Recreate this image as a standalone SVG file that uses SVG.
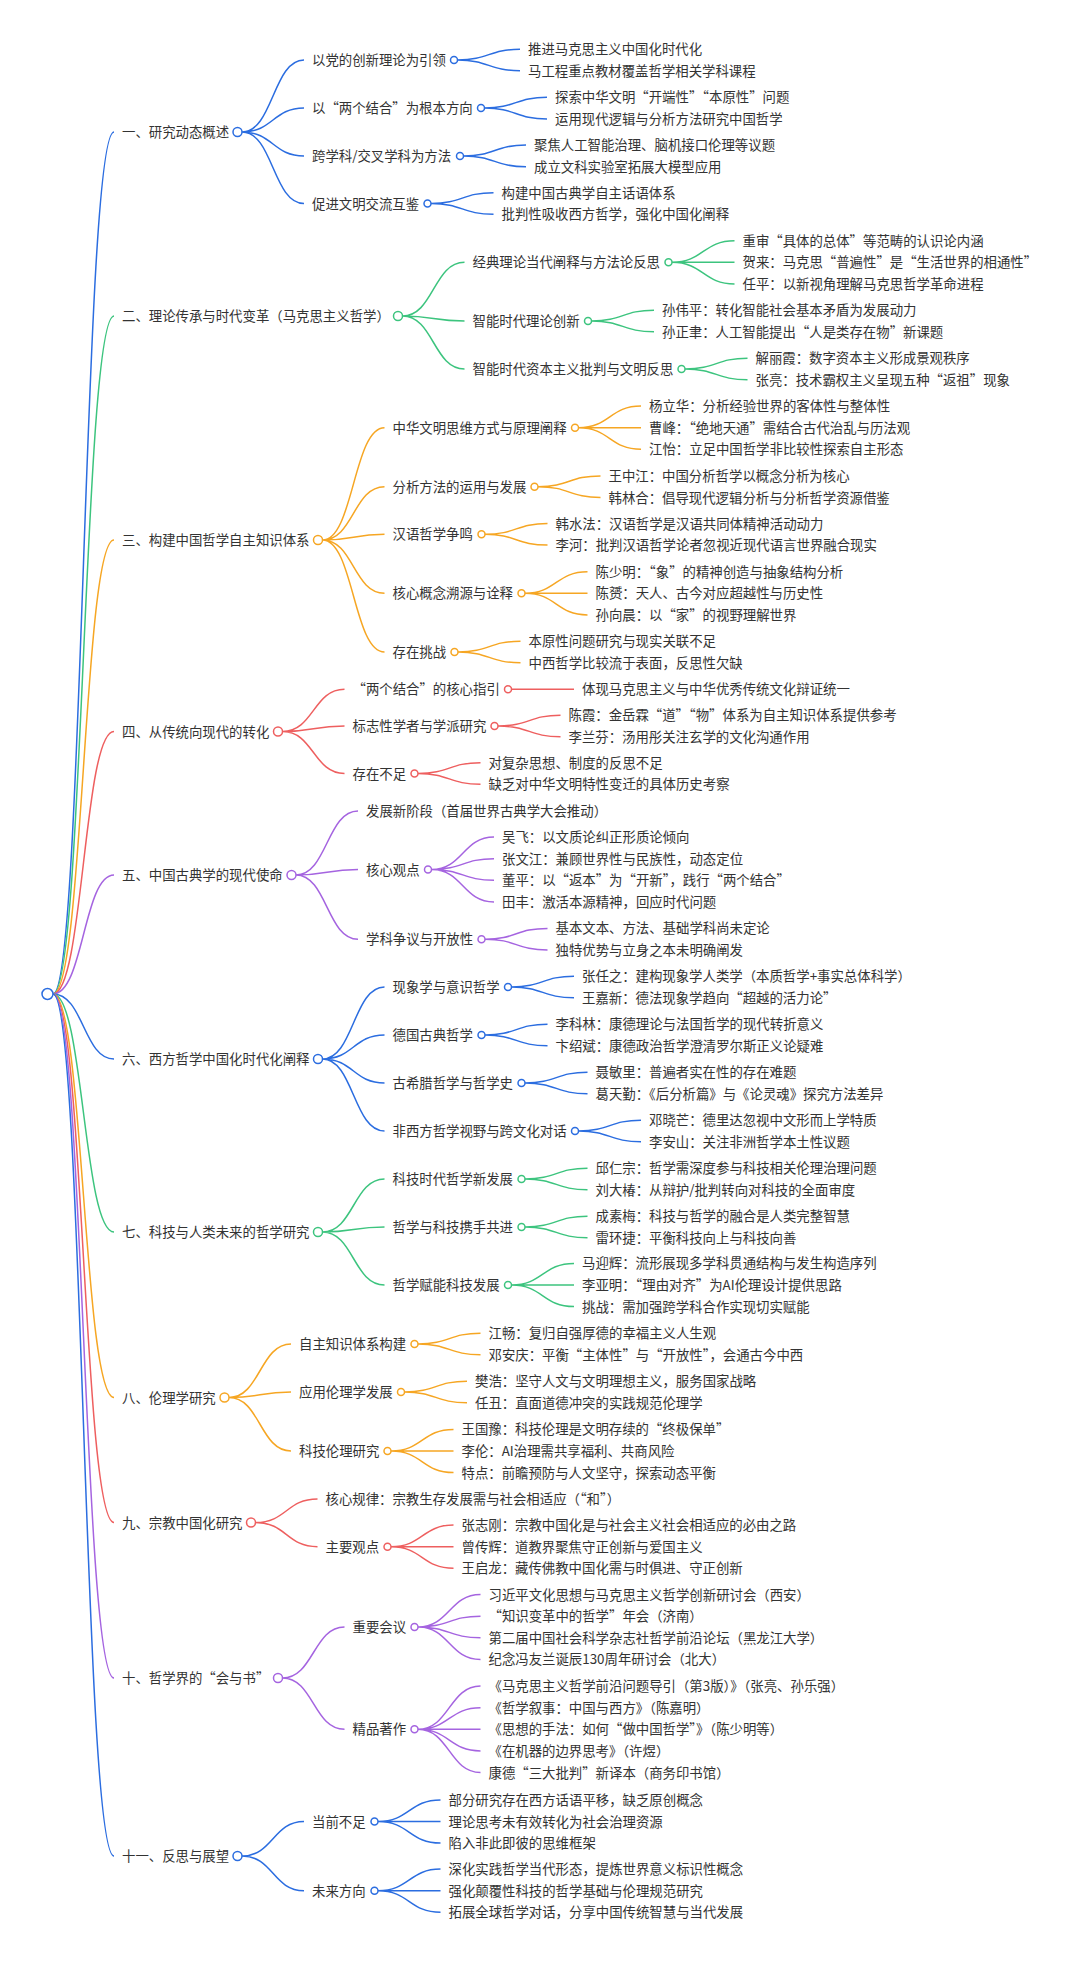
<svg xmlns="http://www.w3.org/2000/svg" width="1080" height="1962" viewBox="0 0 1080 1962">
<style>
.t{font-family:"Noto Sans CJK SC","Noto Sans",sans-serif;font-size:13.4px;fill:#333}
path{fill:none;stroke-width:1.5}
circle{fill:#fff;stroke-width:1.5}
.s1{stroke:#2b6de0}.s2{stroke:#3cc47e}.s3{stroke:#f6a623}.s4{stroke:#ee5f5f}.s5{stroke:#a564e0}
</style>
<rect width="1080" height="1962" fill="#fff"/>
<g id="connectors">
<g class="s1">
<path d="M53 994C83.5 994 83.5 132 114 132"/>
<path d="M242 132C273 132 273 60 304 60M242 132C273 132 273 108 304 108M242 132C273 132 273 156 304 156M242 132C273 132 273 203.5 304 203.5"/>
<path d="M457.5 60C488.8 60 488.8 49.3 520 49.3M457.5 60C488.8 60 488.8 70.7 520 70.7"/>
<path d="M484.5 108C515.8 108 515.8 97.3 547 97.3M484.5 108C515.8 108 515.8 119 547 119"/>
<path d="M463.5 156C494.8 156 494.8 145 526 145M463.5 156C494.8 156 494.8 166.7 526 166.7"/>
<path d="M431 203.5C462.3 203.5 462.3 192.7 493.5 192.7M431 203.5C462.3 203.5 462.3 214.3 493.5 214.3"/>
</g>
<g class="s2">
<path d="M53 994C83.5 994 83.5 316 114 316"/>
<path d="M402.5 316C433.5 316 433.5 262.3 464.5 262.3M402.5 316C433.5 316 433.5 321 464.5 321M402.5 316C433.5 316 433.5 369 464.5 369"/>
<path d="M672 262.3C703.3 262.3 703.3 240.7 734.5 240.7M672 262.3H734.5M672 262.3C703.3 262.3 703.3 284 734.5 284"/>
<path d="M591.5 321C622.8 321 622.8 310.2 654 310.2M591.5 321C622.8 321 622.8 331.8 654 331.8"/>
<path d="M685 369C716.3 369 716.3 358.2 747.5 358.2M685 369C716.3 369 716.3 379.8 747.5 379.8"/>
</g>
<g class="s3">
<path d="M53 994C83.5 994 83.5 540 114 540"/>
<path d="M322.5 540C353.5 540 353.5 427.7 384.5 427.7M322.5 540C353.5 540 353.5 486.7 384.5 486.7M322.5 540C353.5 540 353.5 534.3 384.5 534.3M322.5 540C353.5 540 353.5 593.3 384.5 593.3M322.5 540C353.5 540 353.5 652 384.5 652"/>
<path d="M578.5 427.7C609.8 427.7 609.8 406 641 406M578.5 427.7H641M578.5 427.7C609.8 427.7 609.8 449.3 641 449.3"/>
<path d="M538 486.7C569.3 486.7 569.3 475.9 600.5 475.9M538 486.7C569.3 486.7 569.3 497.5 600.5 497.5"/>
<path d="M485 534.3C516.3 534.3 516.3 523.5 547.5 523.5M485 534.3C516.3 534.3 516.3 545.1 547.5 545.1"/>
<path d="M525 593.3C556.3 593.3 556.3 571.7 587.5 571.7M525 593.3H587.5M525 593.3C556.3 593.3 556.3 614.9 587.5 614.9"/>
<path d="M458 652C489.3 652 489.3 641.2 520.5 641.2M458 652C489.3 652 489.3 662.8 520.5 662.8"/>
</g>
<g class="s4">
<path d="M53 994C83.5 994 83.5 731.5 114 731.5"/>
<path d="M282.5 731.5C313.5 731.5 313.5 689.3 344.5 689.3M282.5 731.5C313.5 731.5 313.5 726 344.5 726M282.5 731.5C313.5 731.5 313.5 773.5 344.5 773.5"/>
<path d="M511.5 689.3H574"/>
<path d="M498 726C529.3 726 529.3 715.2 560.5 715.2M498 726C529.3 726 529.3 736.8 560.5 736.8"/>
<path d="M418 773.5C449.3 773.5 449.3 762.7 480.5 762.7M418 773.5C449.3 773.5 449.3 784.3 480.5 784.3"/>
</g>
<g class="s5">
<path d="M53 994C83.5 994 83.5 875 114 875"/>
<path d="M296 875C327 875 327 811 358 811M296 875C327 875 327 869.5 358 869.5M296 875C327 875 327 939.2 358 939.2"/>
<path d="M431.5 869.5C462.8 869.5 462.8 837.1 494 837.1M431.5 869.5C462.8 869.5 462.8 858.7 494 858.7M431.5 869.5C462.8 869.5 462.8 880.3 494 880.3M431.5 869.5C462.8 869.5 462.8 901.9 494 901.9"/>
<path d="M485 939.2C516.3 939.2 516.3 928.4 547.5 928.4M485 939.2C516.3 939.2 516.3 950 547.5 950"/>
</g>
<g class="s1">
<path d="M53 994C83.5 994 83.5 1059 114 1059"/>
<path d="M322.5 1059C353.5 1059 353.5 987 384.5 987M322.5 1059C353.5 1059 353.5 1035 384.5 1035M322.5 1059C353.5 1059 353.5 1083 384.5 1083M322.5 1059C353.5 1059 353.5 1131 384.5 1131"/>
<path d="M511.5 987C542.8 987 542.8 976.2 574 976.2M511.5 987C542.8 987 542.8 997.8 574 997.8"/>
<path d="M485 1035C516.3 1035 516.3 1024.2 547.5 1024.2M485 1035C516.3 1035 516.3 1045.8 547.5 1045.8"/>
<path d="M525 1083C556.3 1083 556.3 1072.2 587.5 1072.2M525 1083C556.3 1083 556.3 1093.8 587.5 1093.8"/>
<path d="M578.5 1131C609.8 1131 609.8 1120.2 641 1120.2M578.5 1131C609.8 1131 609.8 1141.8 641 1141.8"/>
</g>
<g class="s2">
<path d="M53 994C83.5 994 83.5 1232 114 1232"/>
<path d="M322.5 1232C353.5 1232 353.5 1179 384.5 1179M322.5 1232C353.5 1232 353.5 1227 384.5 1227M322.5 1232C353.5 1232 353.5 1285 384.5 1285"/>
<path d="M525 1179C556.3 1179 556.3 1168.2 587.5 1168.2M525 1179C556.3 1179 556.3 1189.8 587.5 1189.8"/>
<path d="M525 1227C556.3 1227 556.3 1216.2 587.5 1216.2M525 1227C556.3 1227 556.3 1237.8 587.5 1237.8"/>
<path d="M511.5 1285C542.8 1285 542.8 1263.4 574 1263.4M511.5 1285H574M511.5 1285C542.8 1285 542.8 1306.6 574 1306.6"/>
</g>
<g class="s3">
<path d="M53 994C83.5 994 83.5 1397.5 114 1397.5"/>
<path d="M229 1397.5C260 1397.5 260 1344 291 1344M229 1397.5C260 1397.5 260 1392 291 1392M229 1397.5C260 1397.5 260 1451 291 1451"/>
<path d="M418 1344C449.3 1344 449.3 1333.2 480.5 1333.2M418 1344C449.3 1344 449.3 1354.8 480.5 1354.8"/>
<path d="M404.5 1392C435.8 1392 435.8 1381.2 467 1381.2M404.5 1392C435.8 1392 435.8 1402.8 467 1402.8"/>
<path d="M391 1451C422.3 1451 422.3 1429.4 453.5 1429.4M391 1451H453.5M391 1451C422.3 1451 422.3 1472.6 453.5 1472.6"/>
</g>
<g class="s4">
<path d="M53 994C83.5 994 83.5 1522.5 114 1522.5"/>
<path d="M255.5 1522.5C286.5 1522.5 286.5 1499 317.5 1499M255.5 1522.5C286.5 1522.5 286.5 1546.7 317.5 1546.7"/>
<path d="M391 1546.7C422.3 1546.7 422.3 1525.1 453.5 1525.1M391 1546.7H453.5M391 1546.7C422.3 1546.7 422.3 1568.3 453.5 1568.3"/>
</g>
<g class="s5">
<path d="M53 994C83.5 994 83.5 1678 114 1678"/>
<path d="M282.5 1678C313.5 1678 313.5 1627 344.5 1627M282.5 1678C313.5 1678 313.5 1729.3 344.5 1729.3"/>
<path d="M418 1627C449.3 1627 449.3 1594.6 480.5 1594.6M418 1627C449.3 1627 449.3 1616.2 480.5 1616.2M418 1627C449.3 1627 449.3 1637.8 480.5 1637.8M418 1627C449.3 1627 449.3 1659.4 480.5 1659.4"/>
<path d="M418 1729.3C449.3 1729.3 449.3 1686.1 480.5 1686.1M418 1729.3C449.3 1729.3 449.3 1707.7 480.5 1707.7M418 1729.3H480.5M418 1729.3C449.3 1729.3 449.3 1750.9 480.5 1750.9M418 1729.3C449.3 1729.3 449.3 1772.5 480.5 1772.5"/>
</g>
<g class="s1">
<path d="M53 994C83.5 994 83.5 1856 114 1856"/>
<path d="M242 1856C273 1856 273 1821.5 304 1821.5M242 1856C273 1856 273 1890.7 304 1890.7"/>
<path d="M378 1821.5C409.3 1821.5 409.3 1799.9 440.5 1799.9M378 1821.5H440.5M378 1821.5C409.3 1821.5 409.3 1843.1 440.5 1843.1"/>
<path d="M378 1890.7C409.3 1890.7 409.3 1869.1 440.5 1869.1M378 1890.7H440.5M378 1890.7C409.3 1890.7 409.3 1912.3 440.5 1912.3"/>
</g>
</g>
<g id="root"><circle class="s1" cx="47.5" cy="994" r="5.5"/></g>

<g id="b1">
<g id="b1-l1"><text class="t" x="122" y="137">一、研究动态概述</text><circle class="s1" cx="237.5" cy="132" r="4.5"/></g>
<g id="b1-a"><text class="t" x="312" y="65">以党的创新理论为引领</text><circle class="s1" cx="454" cy="60" r="3.5"/></g>
<g id="b1-a1"><text class="t" x="528" y="54.3">推进马克思主义中国化时代化</text></g>
<g id="b1-a2"><text class="t" x="528" y="75.7">马工程重点教材覆盖哲学相关学科课程</text></g>
<g id="b1-b"><text class="t" x="312" y="113">以“两个结合”为根本方向</text><circle class="s1" cx="481" cy="108" r="3.5"/></g>
<g id="b1-b1"><text class="t" x="555" y="102.3">探索中华文明“开端性”“本原性”问题</text></g>
<g id="b1-b2"><text class="t" x="555" y="124">运用现代逻辑与分析方法研究中国哲学</text></g>
<g id="b1-c"><text class="t" x="312" y="161">跨学科/交叉学科为方法</text><circle class="s1" cx="460" cy="156" r="3.5"/></g>
<g id="b1-c1"><text class="t" x="534" y="150">聚焦人工智能治理、脑机接口伦理等议题</text></g>
<g id="b1-c2"><text class="t" x="534" y="171.7">成立文科实验室拓展大模型应用</text></g>
<g id="b1-d"><text class="t" x="312" y="208.5">促进文明交流互鉴</text><circle class="s1" cx="427.5" cy="203.5" r="3.5"/></g>
<g id="b1-d1"><text class="t" x="501.5" y="197.7">构建中国古典学自主话语体系</text></g>
<g id="b1-d2"><text class="t" x="501.5" y="219.3">批判性吸收西方哲学，强化中国化阐释</text></g>
</g>

<g id="b2">
<g id="b2-l1"><text class="t" x="122" y="321">二、理论传承与时代变革（马克思主义哲学）</text><circle class="s2" cx="398" cy="316" r="4.5"/></g>
<g id="b2-a"><text class="t" x="472.5" y="267.3">经典理论当代阐释与方法论反思</text><circle class="s2" cx="668.5" cy="262.3" r="3.5"/></g>
<g id="b2-a1"><text class="t" x="742.5" y="245.7">重审“具体的总体”等范畴的认识论内涵</text></g>
<g id="b2-a2"><text class="t" x="742.5" y="267.3">贺来：马克思“普遍性”是“生活世界的相通性”</text></g>
<g id="b2-a3"><text class="t" x="742.5" y="289">任平：以新视角理解马克思哲学革命进程</text></g>
<g id="b2-b"><text class="t" x="472.5" y="326">智能时代理论创新</text><circle class="s2" cx="588" cy="321" r="3.5"/></g>
<g id="b2-b1"><text class="t" x="662" y="315.2">孙伟平：转化智能社会基本矛盾为发展动力</text></g>
<g id="b2-b2"><text class="t" x="662" y="336.8">孙正聿：人工智能提出“人是类存在物”新课题</text></g>
<g id="b2-c"><text class="t" x="472.5" y="374">智能时代资本主义批判与文明反思</text><circle class="s2" cx="681.5" cy="369" r="3.5"/></g>
<g id="b2-c1"><text class="t" x="755.5" y="363.2">解丽霞：数字资本主义形成景观秩序</text></g>
<g id="b2-c2"><text class="t" x="755.5" y="384.8">张亮：技术霸权主义呈现五种“返祖”现象</text></g>
</g>

<g id="b3">
<g id="b3-l1"><text class="t" x="122" y="545">三、构建中国哲学自主知识体系</text><circle class="s3" cx="318" cy="540" r="4.5"/></g>
<g id="b3-a"><text class="t" x="392.5" y="432.7">中华文明思维方式与原理阐释</text><circle class="s3" cx="575" cy="427.7" r="3.5"/></g>
<g id="b3-a1"><text class="t" x="649" y="411">杨立华：分析经验世界的客体性与整体性</text></g>
<g id="b3-a2"><text class="t" x="649" y="432.7">曹峰：“绝地天通”需结合古代治乱与历法观</text></g>
<g id="b3-a3"><text class="t" x="649" y="454.3">江怡：立足中国哲学非比较性探索自主形态</text></g>
<g id="b3-b"><text class="t" x="392.5" y="491.7">分析方法的运用与发展</text><circle class="s3" cx="534.5" cy="486.7" r="3.5"/></g>
<g id="b3-b1"><text class="t" x="608.5" y="480.9">王中江：中国分析哲学以概念分析为核心</text></g>
<g id="b3-b2"><text class="t" x="608.5" y="502.5">韩林合：倡导现代逻辑分析与分析哲学资源借鉴</text></g>
<g id="b3-c"><text class="t" x="392.5" y="539.3">汉语哲学争鸣</text><circle class="s3" cx="481.5" cy="534.3" r="3.5"/></g>
<g id="b3-c1"><text class="t" x="555.5" y="528.5">韩水法：汉语哲学是汉语共同体精神活动动力</text></g>
<g id="b3-c2"><text class="t" x="555.5" y="550.1">李河：批判汉语哲学论者忽视近现代语言世界融合现实</text></g>
<g id="b3-d"><text class="t" x="392.5" y="598.3">核心概念溯源与诠释</text><circle class="s3" cx="521.5" cy="593.3" r="3.5"/></g>
<g id="b3-d1"><text class="t" x="595.5" y="576.7">陈少明：“象”的精神创造与抽象结构分析</text></g>
<g id="b3-d2"><text class="t" x="595.5" y="598.3">陈赟：天人、古今对应超越性与历史性</text></g>
<g id="b3-d3"><text class="t" x="595.5" y="619.9">孙向晨：以“家”的视野理解世界</text></g>
<g id="b3-e"><text class="t" x="392.5" y="657">存在挑战</text><circle class="s3" cx="454.5" cy="652" r="3.5"/></g>
<g id="b3-e1"><text class="t" x="528.5" y="646.2">本原性问题研究与现实关联不足</text></g>
<g id="b3-e2"><text class="t" x="528.5" y="667.8">中西哲学比较流于表面，反思性欠缺</text></g>
</g>

<g id="b4">
<g id="b4-l1"><text class="t" x="122" y="736.5">四、从传统向现代的转化</text><circle class="s4" cx="278" cy="731.5" r="4.5"/></g>
<g id="b4-a"><text class="t" x="352.5" y="694.3">“两个结合”的核心指引</text><circle class="s4" cx="508" cy="689.3" r="3.5"/></g>
<g id="b4-a1"><text class="t" x="582" y="694.3">体现马克思主义与中华优秀传统文化辩证统一</text></g>
<g id="b4-b"><text class="t" x="352.5" y="731">标志性学者与学派研究</text><circle class="s4" cx="494.5" cy="726" r="3.5"/></g>
<g id="b4-b1"><text class="t" x="568.5" y="720.2">陈霞：金岳霖“道”“物”体系为自主知识体系提供参考</text></g>
<g id="b4-b2"><text class="t" x="568.5" y="741.8">李兰芬：汤用彤关注玄学的文化沟通作用</text></g>
<g id="b4-c"><text class="t" x="352.5" y="778.5">存在不足</text><circle class="s4" cx="414.5" cy="773.5" r="3.5"/></g>
<g id="b4-c1"><text class="t" x="488.5" y="767.7">对复杂思想、制度的反思不足</text></g>
<g id="b4-c2"><text class="t" x="488.5" y="789.3">缺乏对中华文明特性变迁的具体历史考察</text></g>
</g>

<g id="b5">
<g id="b5-l1"><text class="t" x="122" y="880">五、中国古典学的现代使命</text><circle class="s5" cx="291.5" cy="875" r="4.5"/></g>
<g id="b5-a"><text class="t" x="366" y="816">发展新阶段（首届世界古典学大会推动）</text></g>
<g id="b5-b"><text class="t" x="366" y="874.5">核心观点</text><circle class="s5" cx="428" cy="869.5" r="3.5"/></g>
<g id="b5-b1"><text class="t" x="502" y="842.1">吴飞：以文质论纠正形质论倾向</text></g>
<g id="b5-b2"><text class="t" x="502" y="863.7">张文江：兼顾世界性与民族性，动态定位</text></g>
<g id="b5-b3"><text class="t" x="502" y="885.3">董平：以“返本”为“开新”，践行“两个结合”</text></g>
<g id="b5-b4"><text class="t" x="502" y="906.9">田丰：激活本源精神，回应时代问题</text></g>
<g id="b5-c"><text class="t" x="366" y="944.2">学科争议与开放性</text><circle class="s5" cx="481.5" cy="939.2" r="3.5"/></g>
<g id="b5-c1"><text class="t" x="555.5" y="933.4">基本文本、方法、基础学科尚未定论</text></g>
<g id="b5-c2"><text class="t" x="555.5" y="955">独特优势与立身之本未明确阐发</text></g>
</g>

<g id="b6">
<g id="b6-l1"><text class="t" x="122" y="1064">六、西方哲学中国化时代化阐释</text><circle class="s1" cx="318" cy="1059" r="4.5"/></g>
<g id="b6-a"><text class="t" x="392.5" y="992">现象学与意识哲学</text><circle class="s1" cx="508" cy="987" r="3.5"/></g>
<g id="b6-a1"><text class="t" x="582" y="981.2">张任之：建构现象学人类学（本质哲学+事实总体科学）</text></g>
<g id="b6-a2"><text class="t" x="582" y="1002.8">王嘉新：德法现象学趋向“超越的活力论”</text></g>
<g id="b6-b"><text class="t" x="392.5" y="1040">德国古典哲学</text><circle class="s1" cx="481.5" cy="1035" r="3.5"/></g>
<g id="b6-b1"><text class="t" x="555.5" y="1029.2">李科林：康德理论与法国哲学的现代转折意义</text></g>
<g id="b6-b2"><text class="t" x="555.5" y="1050.8">卞绍斌：康德政治哲学澄清罗尔斯正义论疑难</text></g>
<g id="b6-c"><text class="t" x="392.5" y="1088">古希腊哲学与哲学史</text><circle class="s1" cx="521.5" cy="1083" r="3.5"/></g>
<g id="b6-c1"><text class="t" x="595.5" y="1077.2">聂敏里：普遍者实在性的存在难题</text></g>
<g id="b6-c2"><text class="t" x="595.5" y="1098.8">葛天勤：《后分析篇》与《论灵魂》探究方法差异</text></g>
<g id="b6-d"><text class="t" x="392.5" y="1136">非西方哲学视野与跨文化对话</text><circle class="s1" cx="575" cy="1131" r="3.5"/></g>
<g id="b6-d1"><text class="t" x="649" y="1125.2">邓晓芒：德里达忽视中文形而上学特质</text></g>
<g id="b6-d2"><text class="t" x="649" y="1146.8">李安山：关注非洲哲学本土性议题</text></g>
</g>

<g id="b7">
<g id="b7-l1"><text class="t" x="122" y="1237">七、科技与人类未来的哲学研究</text><circle class="s2" cx="318" cy="1232" r="4.5"/></g>
<g id="b7-a"><text class="t" x="392.5" y="1184">科技时代哲学新发展</text><circle class="s2" cx="521.5" cy="1179" r="3.5"/></g>
<g id="b7-a1"><text class="t" x="595.5" y="1173.2">邱仁宗：哲学需深度参与科技相关伦理治理问题</text></g>
<g id="b7-a2"><text class="t" x="595.5" y="1194.8">刘大椿：从辩护/批判转向对科技的全面审度</text></g>
<g id="b7-b"><text class="t" x="392.5" y="1232">哲学与科技携手共进</text><circle class="s2" cx="521.5" cy="1227" r="3.5"/></g>
<g id="b7-b1"><text class="t" x="595.5" y="1221.2">成素梅：科技与哲学的融合是人类完整智慧</text></g>
<g id="b7-b2"><text class="t" x="595.5" y="1242.8">雷环捷：平衡科技向上与科技向善</text></g>
<g id="b7-c"><text class="t" x="392.5" y="1290">哲学赋能科技发展</text><circle class="s2" cx="508" cy="1285" r="3.5"/></g>
<g id="b7-c1"><text class="t" x="582" y="1268.4">马迎辉：流形展现多学科贯通结构与发生构造序列</text></g>
<g id="b7-c2"><text class="t" x="582" y="1290">李亚明：“理由对齐”为AI伦理设计提供思路</text></g>
<g id="b7-c3"><text class="t" x="582" y="1311.6">挑战：需加强跨学科合作实现切实赋能</text></g>
</g>

<g id="b8">
<g id="b8-l1"><text class="t" x="122" y="1402.5">八、伦理学研究</text><circle class="s3" cx="224.5" cy="1397.5" r="4.5"/></g>
<g id="b8-a"><text class="t" x="299" y="1349">自主知识体系构建</text><circle class="s3" cx="414.5" cy="1344" r="3.5"/></g>
<g id="b8-a1"><text class="t" x="488.5" y="1338.2">江畅：复归自强厚德的幸福主义人生观</text></g>
<g id="b8-a2"><text class="t" x="488.5" y="1359.8">邓安庆：平衡“主体性”与“开放性”，会通古今中西</text></g>
<g id="b8-b"><text class="t" x="299" y="1397">应用伦理学发展</text><circle class="s3" cx="401" cy="1392" r="3.5"/></g>
<g id="b8-b1"><text class="t" x="475" y="1386.2">樊浩：坚守人文与文明理想主义，服务国家战略</text></g>
<g id="b8-b2"><text class="t" x="475" y="1407.8">任丑：直面道德冲突的实践规范伦理学</text></g>
<g id="b8-c"><text class="t" x="299" y="1456">科技伦理研究</text><circle class="s3" cx="387.5" cy="1451" r="3.5"/></g>
<g id="b8-c1"><text class="t" x="461.5" y="1434.4">王国豫：科技伦理是文明存续的“终极保单”</text></g>
<g id="b8-c2"><text class="t" x="461.5" y="1456">李伦：AI治理需共享福利、共商风险</text></g>
<g id="b8-c3"><text class="t" x="461.5" y="1477.6">特点：前瞻预防与人文坚守，探索动态平衡</text></g>
</g>

<g id="b9">
<g id="b9-l1"><text class="t" x="122" y="1527.5">九、宗教中国化研究</text><circle class="s4" cx="251" cy="1522.5" r="4.5"/></g>
<g id="b9-a"><text class="t" x="325.5" y="1504">核心规律：宗教生存发展需与社会相适应（“和”）</text></g>
<g id="b9-b"><text class="t" x="325.5" y="1551.7">主要观点</text><circle class="s4" cx="387.5" cy="1546.7" r="3.5"/></g>
<g id="b9-b1"><text class="t" x="461.5" y="1530.1">张志刚：宗教中国化是与社会主义社会相适应的必由之路</text></g>
<g id="b9-b2"><text class="t" x="461.5" y="1551.7">曾传辉：道教界聚焦守正创新与爱国主义</text></g>
<g id="b9-b3"><text class="t" x="461.5" y="1573.3">王启龙：藏传佛教中国化需与时俱进、守正创新</text></g>
</g>

<g id="b10">
<g id="b10-l1"><text class="t" x="122" y="1683">十、哲学界的“会与书”</text><circle class="s5" cx="278" cy="1678" r="4.5"/></g>
<g id="b10-a"><text class="t" x="352.5" y="1632">重要会议</text><circle class="s5" cx="414.5" cy="1627" r="3.5"/></g>
<g id="b10-a1"><text class="t" x="488.5" y="1599.6">习近平文化思想与马克思主义哲学创新研讨会（西安）</text></g>
<g id="b10-a2"><text class="t" x="488.5" y="1621.2">“知识变革中的哲学”年会（济南）</text></g>
<g id="b10-a3"><text class="t" x="488.5" y="1642.8">第二届中国社会科学杂志社哲学前沿论坛（黑龙江大学）</text></g>
<g id="b10-a4"><text class="t" x="488.5" y="1664.4">纪念冯友兰诞辰130周年研讨会（北大）</text></g>
<g id="b10-b"><text class="t" x="352.5" y="1734.3">精品著作</text><circle class="s5" cx="414.5" cy="1729.3" r="3.5"/></g>
<g id="b10-b1"><text class="t" x="488.5" y="1691.1">《马克思主义哲学前沿问题导引（第3版）》（张亮、孙乐强）</text></g>
<g id="b10-b2"><text class="t" x="488.5" y="1712.7">《哲学叙事：中国与西方》（陈嘉明）</text></g>
<g id="b10-b3"><text class="t" x="488.5" y="1734.3">《思想的手法：如何“做中国哲学”》（陈少明等）</text></g>
<g id="b10-b4"><text class="t" x="488.5" y="1755.9">《在机器的边界思考》（许煜）</text></g>
<g id="b10-b5"><text class="t" x="488.5" y="1777.5">康德“三大批判”新译本（商务印书馆）</text></g>
</g>

<g id="b11">
<g id="b11-l1"><text class="t" x="122" y="1861">十一、反思与展望</text><circle class="s1" cx="237.5" cy="1856" r="4.5"/></g>
<g id="b11-a"><text class="t" x="312" y="1826.5">当前不足</text><circle class="s1" cx="374.5" cy="1821.5" r="3.5"/></g>
<g id="b11-a1"><text class="t" x="448.5" y="1804.9">部分研究存在西方话语平移，缺乏原创概念</text></g>
<g id="b11-a2"><text class="t" x="448.5" y="1826.5">理论思考未有效转化为社会治理资源</text></g>
<g id="b11-a3"><text class="t" x="448.5" y="1848.1">陷入非此即彼的思维框架</text></g>
<g id="b11-b"><text class="t" x="312" y="1895.7">未来方向</text><circle class="s1" cx="374.5" cy="1890.7" r="3.5"/></g>
<g id="b11-b1"><text class="t" x="448.5" y="1874.1">深化实践哲学当代形态，提炼世界意义标识性概念</text></g>
<g id="b11-b2"><text class="t" x="448.5" y="1895.7">强化颠覆性科技的哲学基础与伦理规范研究</text></g>
<g id="b11-b3"><text class="t" x="448.5" y="1917.3">拓展全球哲学对话，分享中国传统智慧与当代发展</text></g>
</g>
</svg>
